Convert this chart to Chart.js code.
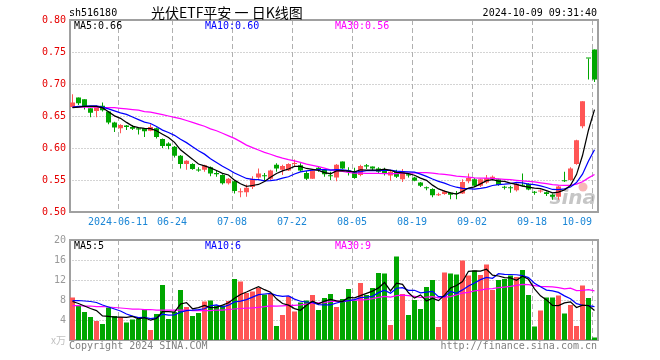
<!DOCTYPE html>
<html><head><meta charset="utf-8">
<script src="https://cdn.jsdelivr.net/npm/chart.js@4.4.1/dist/chart.umd.min.js"></script>
<style>
html,body{margin:0;padding:0;background:#fff;}
#wrap{position:relative;width:660px;height:360px;background:#fff;}
#c1{position:absolute;left:0;top:0;}
#c2{position:absolute;left:0;top:230px;}
</style></head><body>
<div id="wrap"><canvas id="c1" width="660" height="230"></canvas><canvas id="c2" width="660" height="130"></canvas></div>
<script>
// ---------------- data ----------------
const dates = ['05-29','05-30','05-31','06-03','06-04','06-05','06-06','06-07','06-11','06-12','06-13','06-14','06-17','06-18','06-19','06-20','06-21','06-24','06-25','06-26','06-27','06-28','07-01','07-02','07-03','07-04','07-05','07-08','07-09','07-10','07-11','07-12','07-15','07-16','07-17','07-18','07-19','07-22','07-23','07-24','07-25','07-26','07-29','07-30','07-31','08-01','08-02','08-05','08-06','08-07','08-08','08-09','08-12','08-13','08-14','08-15','08-16','08-19','08-20','08-21','08-22','08-23','08-26','08-27','08-28','08-29','08-30','09-02','09-03','09-04','09-05','09-06','09-09','09-10','09-11','09-12','09-13','09-18','09-19','09-20','09-23','09-24','09-25','09-26','09-27','09-30','10-08','10-09'];
const openP = [.664,.679,.676,.662,.658,.666,.657,.640,.631,.635,.633,.631,.631,.627,.631,.614,.607,.602,.588,.575,.575,.566,.566,.570,.561,.558,.545,.548,.531,.531,.539,.554,.557,.552,.574,.566,.565,.575,.573,.561,.552,.569,.566,.557,.554,.579,.565,.564,.558,.573,.571,.568,.566,.557,.563,.551,.559,.554,.546,.538,.536,.526,.528,.530,.529,.529,.548,.551,.541,.546,.551,.551,.539,.538,.534,.542,.544,.531,.532,.531,.527,.524,.549,.550,.575,.634,.740,.754];
const highP = [.684,.679,.676,.662,.666,.671,.658,.641,.637,.636,.636,.632,.631,.637,.632,.615,.609,.603,.589,.581,.576,.570,.574,.571,.564,.559,.553,.549,.537,.543,.556,.568,.561,.566,.576,.574,.576,.582,.576,.564,.567,.572,.567,.563,.575,.579,.570,.569,.574,.575,.571,.570,.569,.565,.566,.567,.561,.555,.547,.540,.537,.530,.534,.531,.533,.551,.560,.553,.552,.558,.557,.552,.541,.541,.545,.560,.545,.533,.535,.532,.529,.541,.563,.570,.613,.673,.740,.754];
const lowP = [.663,.667,.660,.648,.648,.657,.637,.625,.623,.628,.628,.621,.617,.626,.615,.600,.598,.585,.568,.566,.566,.563,.563,.556,.555,.543,.543,.529,.523,.524,.536,.552,.549,.550,.563,.558,.564,.571,.563,.550,.552,.563,.555,.550,.548,.567,.557,.552,.556,.567,.565,.561,.557,.549,.553,.547,.554,.548,.539,.534,.523,.525,.527,.520,.520,.528,.545,.539,.539,.544,.550,.541,.535,.530,.532,.540,.534,.527,.530,.525,.519,.519,.547,.549,.574,.631,.707,.703];
const closeP = [.671,.670,.665,.655,.665,.659,.640,.632,.636,.633,.630,.629,.626,.633,.617,.603,.603,.588,.575,.580,.567,.565,.573,.560,.559,.545,.552,.533,.532,.538,.552,.560,.556,.565,.568,.572,.575,.576,.565,.552,.565,.567,.559,.556,.574,.568,.563,.553,.572,.571,.568,.563,.561,.563,.555,.563,.557,.549,.541,.537,.526,.527,.532,.527,.528,.547,.553,.541,.551,.553,.555,.542,.538,.537,.544,.541,.535,.530,.533,.528,.524,.540,.548,.568,.612,.673,.740,.707];
const volume = [8.5,6.9,5.6,4.6,3.8,3.2,6.5,4.8,4.6,3.5,4.1,4.2,6.0,2.0,5.2,11.0,4.2,5.6,10.0,6.6,4.8,5.4,7.7,7.9,6.9,6.9,7.8,12.2,11.7,9.4,9.7,10.4,9.1,9.2,2.8,5.0,8.7,5.7,7.5,7.9,9.0,6.0,8.4,9.2,6.6,8.2,10.2,7.9,11.4,9.0,10.4,13.4,13.3,3.0,16.7,9.2,5.0,8.0,6.2,10.6,12.0,2.6,13.5,13.3,13.1,15.9,12.9,13.9,13.0,15.1,10.0,12.0,12.2,12.9,12.6,14.0,9.0,2.7,5.9,8.5,8.5,8.9,5.3,7.0,2.8,10.9,8.4,0.5];
// moving-average values before a full window exists
const ma5Head = [0.663,0.664,0.665,0.665];
const ma10Head = [0.664,0.665,0.665,0.666,0.666,0.664,0.661,0.658,0.655];
const ma30Head = [0.664,0.664,0.664,0.664,0.664,0.663,0.663,0.663,0.662,0.661,0.660,0.659,0.657,0.656,0.654,0.652,0.650,0.648,0.646,0.643,0.640,0.637,0.634,0.630,0.627,0.623,0.619,0.615,0.610];
const vma5Head = [7.7,7.3,6.8,6.3];
const vma10Head = [7.9,7.9,7.8,7.7,7.5,7.0,6.6,6.2,5.8];
const vma30Head = [6.9,6.9,6.8,6.8,6.7,6.7,6.6,6.5,6.4,6.3,6.2,6.2,6.1,6.1,6.0,6.0,6.0,6.0,6.0,6.0,5.9,5.9,5.9,5.9,6.0,6.0,6.1,6.2,6.3];
const priceTicks = [0.50,0.55,0.60,0.65,0.70,0.75,0.80];
const volTicks = [4,8,12,16,20];
const markLabels = ['2024-06-11','06-24','07-08','07-22','08-05','08-19','09-02','09-18','10-09'];
const titleCode = 'sh516180';
const titleText = '光伏ETF平安 一 日K线图';
const stampText = '2024-10-09 09:31:40';

// ---------------- helpers ----------------
function movingAvg(arr, n, head){
  return arr.map((v,i)=> i < n-1 ? head[i] : arr.slice(i-n+1,i+1).reduce((a,b)=>a+b,0)/n);
}
const ma5 = movingAvg(closeP,5,ma5Head), ma10 = movingAvg(closeP,10,ma10Head), ma30 = movingAvg(closeP,30,ma30Head);
const vma5 = movingAvg(volume,5,vma5Head), vma10 = movingAvg(volume,10,vma10Head), vma30 = movingAvg(volume,30,vma30Head);
const UP = '#ff5555', DOWN = '#00a600';
const barColors = closeP.map((c,i)=> c > openP[i] ? UP : DOWN);
const markIdx = markLabels.map(l => dates.indexOf(l.slice(-5)));
const N = dates.length;
const MONO = '10px "DejaVu Sans Mono", "Liberation Mono", monospace';
const CJK = '"Noto Sans CJK SC", "Noto Sans", sans-serif';

function drawGrid(chart, hTicks){
  const {ctx, chartArea:a, scales} = chart;
  const xs = scales.x, ys = scales.y;
  ctx.save();
  ctx.lineWidth = 1;
  ctx.strokeStyle = '#a8a8a8';
  ctx.setLineDash([1,2]);
  hTicks.forEach(v=>{
    const y = Math.round(ys.getPixelForValue(v)) + 0.5;
    if (y <= a.top + 2 || y >= a.bottom - 2) return;
    ctx.beginPath(); ctx.moveTo(a.left, y); ctx.lineTo(a.right, y); ctx.stroke();
  });
  ctx.setLineDash([5,3]);
  ctx.strokeStyle = '#b0b0b0';
  markIdx.forEach(i=>{
    const x = Math.round((xs.getPixelForValue(i-1) + xs.getPixelForValue(i))/2) + 0.5;
    ctx.beginPath(); ctx.moveTo(x, a.top); ctx.lineTo(x, a.bottom); ctx.stroke();
  });
  ctx.setLineDash([]);
  ctx.strokeStyle = '#a0a0a0';
  ctx.lineWidth = 2;
  const l = Math.round(a.left), r = Math.round(a.right), t = Math.round(a.top), b = Math.round(a.bottom);
  ctx.strokeRect(l, t, r-l, b-t);
  ctx.restore();
}

function lineDs(data, color){
  return {type:'line', data, borderColor:color, borderWidth:1.25, pointRadius:0, tension:0, fill:false, order:0};
}

Chart.defaults.font.family = '"DejaVu Sans Mono", monospace';

// ---------------- price chart ----------------
new Chart(document.getElementById('c1'), {
  type:'bar',
  data:{
    labels: dates,
    datasets:[
      lineDs(ma5,'#000000'), lineDs(ma10,'#0000ff'), lineDs(ma30,'#ff00ff'),
      {data: dates.map((d,i)=>[openP[i], closeP[i]]), backgroundColor: barColors, barThickness:5, minBarLength:1, grouped:false, inflateAmount:0, borderWidth:0, order:1},
      {data: dates.map((d,i)=>[lowP[i], highP[i]]), backgroundColor: barColors, barThickness:1, minBarLength:1, grouped:false, inflateAmount:0, borderWidth:0, order:2}
    ]
  },
  options:{
    responsive:false, animation:false, devicePixelRatio:1,
    layout:{padding:{left:69.5, right:62.5, top:20, bottom:18}},
    plugins:{legend:{display:false}, tooltip:{enabled:false}},
    scales:{
      x:{type:'category', offset:true, display:false},
      y:{type:'linear', min:priceTicks[0], max:priceTicks[priceTicks.length-1], display:false}
    }
  },
  plugins:[{
    id:'priceDeco',
    beforeDatasetsDraw(chart){
      const {ctx} = chart;
      drawGrid(chart, priceTicks);
      ctx.save();
      ctx.font = 'italic bold 20px "DejaVu Sans", sans-serif';
      ctx.fillStyle = 'rgba(160,160,160,0.6)';
      ctx.textAlign = 'right'; ctx.textBaseline = 'alphabetic';
      ctx.fillText('sina', 596, 204);
      ctx.fillStyle = 'rgba(240,110,110,0.5)';
      ctx.beginPath(); ctx.arc(583, 187, 4.5, 0, Math.PI*2); ctx.fill();
      ctx.restore();
    },
    afterDraw(chart){
      const {ctx, chartArea:a, scales} = chart;
      ctx.save();
      ctx.font = MONO; ctx.textBaseline = 'middle';
      // y labels
      ctx.fillStyle = '#e60000'; ctx.textAlign = 'right';
      priceTicks.forEach(v=> ctx.fillText(v.toFixed(2), 66, scales.y.getPixelForValue(v)));
      // x labels
      ctx.fillStyle = '#1b86d6';
      markLabels.forEach((lab,j)=>{
        const i = markIdx[j];
        const x = Math.round((scales.x.getPixelForValue(i-1) + scales.x.getPixelForValue(i))/2);
        const w = ctx.measureText(lab).width;
        if (x + w/2 > a.right) { ctx.textAlign = 'right'; ctx.fillText(lab, x, 222); }
        else { ctx.textAlign = 'center'; ctx.fillText(lab, x, 222); }
      });
      // title row
      ctx.fillStyle = '#000'; ctx.textAlign = 'left';
      ctx.fillText(titleCode, 69, 13.5);
      ctx.textAlign = 'right';
      ctx.fillText(stampText, 597, 13.5);
      ctx.font = '14px ' + CJK; ctx.textAlign = 'left';
      ctx.fillText(titleText, 151, 12.5);
      // legend
      ctx.font = MONO; ctx.textAlign = 'left';
      ctx.fillStyle = '#000'; ctx.fillText('MA5:' + ma5[N-1].toFixed(2), 74, 26.5);
      ctx.fillStyle = '#0000ff'; ctx.fillText('MA10:' + ma10[N-1].toFixed(2), 205, 26.5);
      ctx.fillStyle = '#ff00ff'; ctx.fillText('MA30:' + ma30[N-1].toFixed(2), 335, 26.5);
      ctx.restore();
    }
  }]
});

// ---------------- volume chart ----------------
new Chart(document.getElementById('c2'), {
  type:'bar',
  data:{
    labels: dates,
    datasets:[
      lineDs(vma5,'#000000'), lineDs(vma10,'#0000ff'), lineDs(vma30,'#ff00ff'),
      {data: volume, backgroundColor: barColors, barThickness:5, grouped:false, inflateAmount:0, borderWidth:0, order:1}
    ]
  },
  options:{
    responsive:false, animation:false, devicePixelRatio:1,
    layout:{padding:{left:69.5, right:62.5, top:10, bottom:20}},
    plugins:{legend:{display:false}, tooltip:{enabled:false}},
    scales:{
      x:{type:'category', offset:true, display:false},
      y:{type:'linear', min:0, max:volTicks[volTicks.length-1], display:false}
    }
  },
  plugins:[{
    id:'volDeco',
    beforeDatasetsDraw(chart){ drawGrid(chart, volTicks); },
    afterDraw(chart){
      const {ctx, chartArea:a, scales} = chart;
      ctx.save();
      ctx.font = MONO; ctx.textBaseline = 'middle';
      ctx.fillStyle = '#999999'; ctx.textAlign = 'right';
      volTicks.forEach(v=> ctx.fillText(String(v), 66, scales.y.getPixelForValue(v)));
      ctx.fillStyle = '#c0c0c0';
      ctx.font = '10px ' + CJK;
      ctx.fillText('x万', 66, scales.y.getPixelForValue(0));
      ctx.font = MONO; ctx.textAlign = 'left';
      ctx.fillStyle = '#000'; ctx.fillText('MA5:' + Math.floor(vma5[N-1]), 74, 16.5);
      ctx.fillStyle = '#0000ff'; ctx.fillText('MA10:' + Math.floor(vma10[N-1]), 205, 16.5);
      ctx.fillStyle = '#ff00ff'; ctx.fillText('MA30:' + Math.floor(vma30[N-1]), 335, 16.5);
      ctx.fillStyle = '#808080';
      ctx.fillText('Copyright 2024 SINA.COM', 69, 116);
      ctx.textAlign = 'right';
      ctx.fillText('http://finance.sina.com.cn', 597, 116);
      ctx.restore();
    }
  }]
});
</script>
</body></html>
